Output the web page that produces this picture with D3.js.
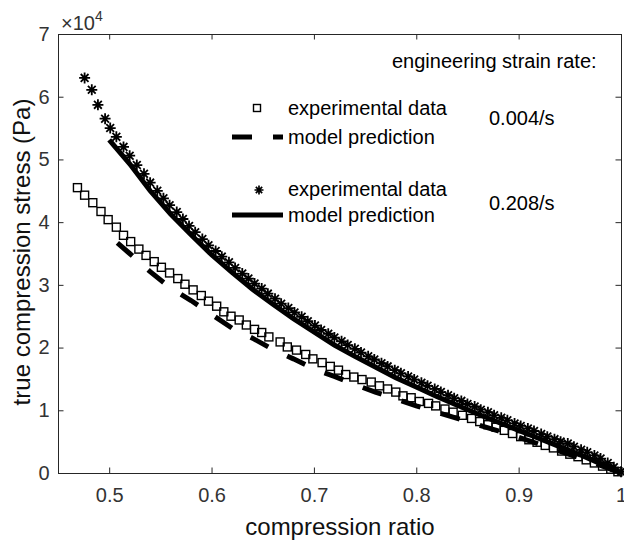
<!DOCTYPE html>
<meta charset="utf-8">
<style>

body {
  margin: 0;
  background: #fff;
}

svg {
  font-family: Arial, "Liberation Sans", sans-serif;
}

.axis path,
.axis line {
  stroke: #262626;
}

.axis text {
  fill: #333;
  font-size: 20px;
}

.label {
  fill: #111;
  font-size: 24px;
}

.legend text {
  fill: #000;
  font-size: 20px;
}
</style>
<svg></svg>
<script src="https://d3js.org/d3.v7.min.js"></script>
<script>

// stress values are in units of 10^4 Pa

// experimental data, 0.004/s (squares)
var slowX = [0.469, 0.476, 0.484, 0.492, 0.499, 0.507, 0.514, 0.521, 0.529, 0.536,
             0.544, 0.551, 0.559, 0.567, 0.574, 0.582, 0.590, 0.597, 0.605, 0.612,
             0.619, 0.627, 0.634, 0.642, 0.649, 0.656, 0.667, 0.674, 0.683, 0.692,
             0.699, 0.708, 0.716, 0.724, 0.731, 0.739, 0.747, 0.756, 0.764, 0.772,
             0.780, 0.787, 0.795, 0.803, 0.812, 0.819, 0.828, 0.836, 0.845, 0.854,
             0.862, 0.870, 0.878, 0.886, 0.894, 0.902, 0.910, 0.918, 0.926, 0.934,
             0.942, 0.950, 0.958, 0.966, 0.974, 0.982, 0.990, 0.997];
var slowY = [4.55, 4.43, 4.31, 4.17, 4.04, 3.92, 3.79, 3.69, 3.57, 3.47,
             3.37, 3.28, 3.19, 3.10, 3.01, 2.92, 2.83, 2.74, 2.66, 2.57,
             2.50, 2.44, 2.36, 2.29, 2.24, 2.17, 2.09, 2.01, 1.96, 1.89,
             1.82, 1.76, 1.70, 1.64, 1.57, 1.53, 1.49, 1.45, 1.39, 1.34,
             1.29, 1.23, 1.20, 1.14, 1.11, 1.07, 1.02, 0.97, 0.92, 0.87,
             0.82, 0.77, 0.73, 0.68, 0.63, 0.58, 0.53, 0.49, 0.44, 0.40,
             0.35, 0.30, 0.26, 0.21, 0.16, 0.11, 0.06, 0.02];

// experimental data, 0.208/s (asterisks)
var fastX = [0.476, 0.483, 0.489, 0.496, 0.501, 0.507, 0.514, 0.520, 0.527, 0.534,
             0.540, 0.547, 0.553, 0.559, 0.566, 0.572, 0.578, 0.584, 0.591, 0.597,
             0.604, 0.610, 0.617, 0.623, 0.630, 0.636, 0.642, 0.649, 0.655, 0.662,
             0.668, 0.675, 0.681, 0.688, 0.694, 0.701, 0.707, 0.714, 0.720, 0.727,
             0.733, 0.740, 0.746, 0.753, 0.759, 0.766, 0.772, 0.779, 0.785, 0.792,
             0.798, 0.805, 0.811, 0.818, 0.824, 0.831, 0.837, 0.844, 0.850, 0.857,
             0.863, 0.870, 0.876, 0.883, 0.889, 0.896, 0.902, 0.909, 0.915, 0.922,
             0.928, 0.935, 0.941, 0.948, 0.954, 0.961, 0.967, 0.974, 0.980, 0.987,
             0.993, 1.000];
var fastY = [6.30, 6.11, 5.87, 5.65, 5.50, 5.36, 5.20, 5.06, 4.91, 4.77,
             4.63, 4.50, 4.38, 4.27, 4.16, 4.05, 3.94, 3.84, 3.73, 3.63,
             3.54, 3.45, 3.36, 3.27, 3.18, 3.10, 3.02, 2.94, 2.86, 2.78,
             2.70, 2.63, 2.56, 2.49, 2.42, 2.35, 2.28, 2.22, 2.16, 2.10,
             2.04, 1.98, 1.92, 1.86, 1.81, 1.75, 1.70, 1.64, 1.59, 1.54,
             1.49, 1.44, 1.39, 1.34, 1.29, 1.24, 1.19, 1.15, 1.10, 1.06,
             1.01, 0.97, 0.92, 0.88, 0.84, 0.79, 0.75, 0.71, 0.67, 0.62,
             0.58, 0.54, 0.50, 0.47, 0.42, 0.37, 0.33, 0.28, 0.23, 0.16,
             0.09, 0.02];

// model prediction, 0.004/s (dashed)
var slowModelX = [0.508, 0.52, 0.54, 0.56, 0.58, 0.60, 0.62, 0.64, 0.66, 0.68, 0.70,
                  0.72, 0.74, 0.76, 0.78, 0.80, 0.82, 0.84, 0.86, 0.88, 0.90,
                  0.92, 0.94, 0.96, 0.98, 1.00];
var slowModelY = [3.67, 3.50, 3.21, 2.95, 2.75, 2.53, 2.31, 2.15, 1.97, 1.82, 1.66,
                  1.54, 1.41, 1.29, 1.18, 1.07, 0.97, 0.87, 0.77, 0.67, 0.57,
                  0.46, 0.35, 0.24, 0.12, 0.00];

// model prediction, 0.208/s (solid)
var fastModelX = [0.500, 0.52, 0.54, 0.56, 0.58, 0.60, 0.62, 0.64, 0.66, 0.68, 0.70,
                  0.72, 0.74, 0.76, 0.78, 0.80, 0.82, 0.84, 0.86, 0.88, 0.90,
                  0.92, 0.94, 0.96, 0.98, 1.00];
var fastModelY = [5.31, 4.93, 4.50, 4.13, 3.80, 3.48, 3.20, 2.93, 2.69, 2.46, 2.25,
                  2.04, 1.86, 1.69, 1.52, 1.37, 1.22, 1.08, 0.94, 0.81, 0.68,
                  0.55, 0.42, 0.29, 0.15, 0.00];

var xTicks = [0.5, 0.6, 0.7, 0.8, 0.9, 1],
    yTicks = [0, 1, 2, 3, 4, 5, 6, 7];

var width = 624,
    height = 541;

var x = d3.scaleLinear()
    .domain([0.45, 1])
    .range([58, 621]);

var y = d3.scaleLinear()
    .domain([0, 7])
    .range([473, 34]);

var svg = d3.select("svg")
    .attr("width", width)
    .attr("height", height);

// box with inward ticks on all four sides
svg.append("g")
    .attr("class", "axis")
    .attr("transform", "translate(0,473)")
    .call(d3.axisBottom(x).tickValues(xTicks).tickFormat(d3.format("")).tickSizeInner(-5.5).tickSizeOuter(0).tickPadding(15));

svg.append("g")
    .attr("class", "axis")
    .attr("transform", "translate(0,34)")
    .call(d3.axisTop(x).tickValues(xTicks).tickFormat("").tickSizeInner(-5.5).tickSizeOuter(0));

svg.append("g")
    .attr("class", "axis")
    .attr("transform", "translate(58,0)")
    .call(d3.axisLeft(y).tickValues(yTicks).tickFormat(d3.format("d")).tickSizeInner(-5.5).tickSizeOuter(0).tickPadding(8.5));

svg.append("g")
    .attr("class", "axis")
    .attr("transform", "translate(621,0)")
    .call(d3.axisRight(y).tickValues(yTicks).tickFormat("").tickSizeInner(-5.5).tickSizeOuter(0));

// exponent label
var expo = svg.append("text")
    .attr("x", 61)
    .attr("y", 30)
    .style("fill", "#333")
    .style("font-size", "20px");
expo.append("tspan").text("\u00d710");
expo.append("tspan")
    .attr("dy", -9)
    .style("font-size", "14px")
    .text("4");

svg.append("text")
    .attr("class", "label")
    .attr("x", 340)
    .attr("y", 535)
    .attr("text-anchor", "middle")
    .text("compression ratio");

svg.append("text")
    .attr("class", "label")
    .attr("transform", "translate(30,252) rotate(-90)")
    .attr("text-anchor", "middle")
    .text("true compression stress (Pa)");

var line = d3.line()
    .x(function(d) { return x(d[0]); })
    .y(function(d) { return y(d[1]); });

function star(r) {
  var s = r * Math.SQRT1_2;
  return "M" + (-r) + ",0H" + r + "M0," + (-r) + "V" + r +
         "M" + (-s) + "," + (-s) + "L" + s + "," + s +
         "M" + (-s) + "," + s + "L" + s + "," + (-s);
}

var slowPts = d3.zip(slowX, slowY),
    fastPts = d3.zip(fastX, fastY);

svg.append("g").selectAll("rect")
    .data(slowPts)
  .enter().append("rect")
    .attr("x", function(d) { return x(d[0]) - 4; })
    .attr("y", function(d) { return y(d[1]) - 4; })
    .attr("width", 8)
    .attr("height", 8)
    .style("fill", "none")
    .style("stroke", "#000")
    .style("stroke-width", 1.4);

svg.append("g").selectAll("path")
    .data(fastPts)
  .enter().append("path")
    .attr("transform", function(d) { return "translate(" + x(d[0]) + "," + y(d[1]) + ")"; })
    .attr("d", star(5.5))
    .style("fill", "none")
    .style("stroke", "#000")
    .style("stroke-width", 1.8);

svg.append("path")
    .datum(d3.zip(slowModelX, slowModelY))
    .attr("d", line)
    .style("fill", "none")
    .style("stroke", "#000")
    .style("stroke-width", 5)
    .style("stroke-dasharray", "20,21");

svg.append("path")
    .datum(d3.zip(fastModelX, fastModelY))
    .attr("d", line)
    .style("fill", "none")
    .style("stroke", "#000")
    .style("stroke-width", 5);

// legend
var legend = svg.append("g")
    .attr("class", "legend");

legend.append("text")
    .attr("x", 392)
    .attr("y", 68)
    .text("engineering strain rate:");

legend.append("rect")
    .attr("x", 253.5)
    .attr("y", 104.5)
    .attr("width", 7)
    .attr("height", 7)
    .style("fill", "none")
    .style("stroke", "#000")
    .style("stroke-width", 1.4);

legend.append("line")
    .attr("x1", 232).attr("x2", 283)
    .attr("y1", 137).attr("y2", 137)
    .style("stroke", "#000")
    .style("stroke-width", 5)
    .style("stroke-dasharray", "20,21");

legend.append("path")
    .attr("transform", "translate(259,190)")
    .attr("d", star(4.5))
    .style("fill", "none")
    .style("stroke", "#000")
    .style("stroke-width", 1.7);

legend.append("line")
    .attr("x1", 232).attr("x2", 283)
    .attr("y1", 215).attr("y2", 215)
    .style("stroke", "#000")
    .style("stroke-width", 5);

legend.append("text").attr("x", 288).attr("y", 115).text("experimental data");
legend.append("text").attr("x", 288).attr("y", 144).text("model prediction");
legend.append("text").attr("x", 288).attr("y", 196).text("experimental data");
legend.append("text").attr("x", 288).attr("y", 222).text("model prediction");

legend.append("text").attr("x", 489).attr("y", 125).text("0.004/s");
legend.append("text").attr("x", 489).attr("y", 210).text("0.208/s");

</script>
